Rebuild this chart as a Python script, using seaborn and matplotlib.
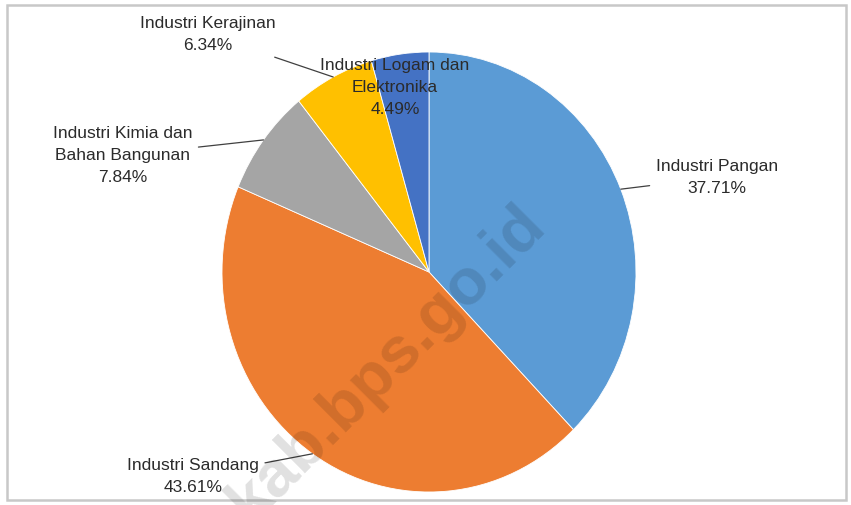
import numpy as np
import matplotlib
matplotlib.use('Agg')
import matplotlib.pyplot as plt
import seaborn as sns
from matplotlib.patches import Rectangle

sns.set_theme(style='white')
plt.rcParams['font.family'] = ['Liberation Sans', 'DejaVu Sans']

# Data
labels = [
    'Industri Pangan',
    'Industri Sandang',
    'Industri Kimia dan\nBahan Bangunan',
    'Industri Kerajinan',
    'Industri Logam dan\nElektronika',
]
shares = [37.71, 43.61, 7.84, 6.34, 4.49]
colors = sns.color_palette(['#5B9BD5', '#ED7D31', '#A5A5A5', '#FFC000', '#4472C4'])

# label placement (data units, pie radius = 1)
label_pos = [(1.39, 0.43), (-1.14, -0.93), (-1.48, 0.53), (-1.07, 1.08), (-0.165, 0.84)]
inside = [False, False, False, False, True]

fig = plt.figure(figsize=(8.51, 5.05), dpi=100)
ax = fig.add_axes([0, 0, 1, 1])

wedges, _ = ax.pie(shares, colors=colors, startangle=90, counterclock=False,
                   wedgeprops=dict(edgecolor='white', linewidth=0.6))
ax.set_aspect('auto')
# pie is a bit taller than wide in the reference
ax.set_xlim(-429 / 207, (851 - 429) / 207)
ax.set_ylim(-(505 - 272) / 220, 272 / 220)
ax.axis('off')

txt_kw = dict(ha='center', va='center', fontsize=12.5, color='#2b2b2b', linespacing=1.6)
for w, lab, val, pos, ins in zip(wedges, labels, shares, label_pos, inside):
    txt = f'{lab}\n{val:.2f}%'
    if ins:
        ax.text(pos[0], pos[1], txt, zorder=5, **txt_kw)
        continue
    ang = np.deg2rad((w.theta1 + w.theta2) / 2)
    xy = (np.cos(ang), np.sin(ang))
    ax.annotate(txt, xy=xy, xytext=pos,
                arrowprops=dict(arrowstyle='-', color='#404040', lw=0.9,
                                shrinkA=2, shrinkB=0), **txt_kw)

# watermark
fig.text(0.455, 0.28, 'kab.bps.go.id', fontsize=47, fontweight='bold', color='black',
         alpha=0.12, rotation=45, ha='center', va='center')

# outer border
fig.patches.append(Rectangle((7 / 851, 5 / 505), 839 / 851, 495 / 505, transform=fig.transFigure,
                             fill=False, edgecolor='#C8C8C8', linewidth=1.8))

fig.savefig('out.png', dpi=100, facecolor='white')
